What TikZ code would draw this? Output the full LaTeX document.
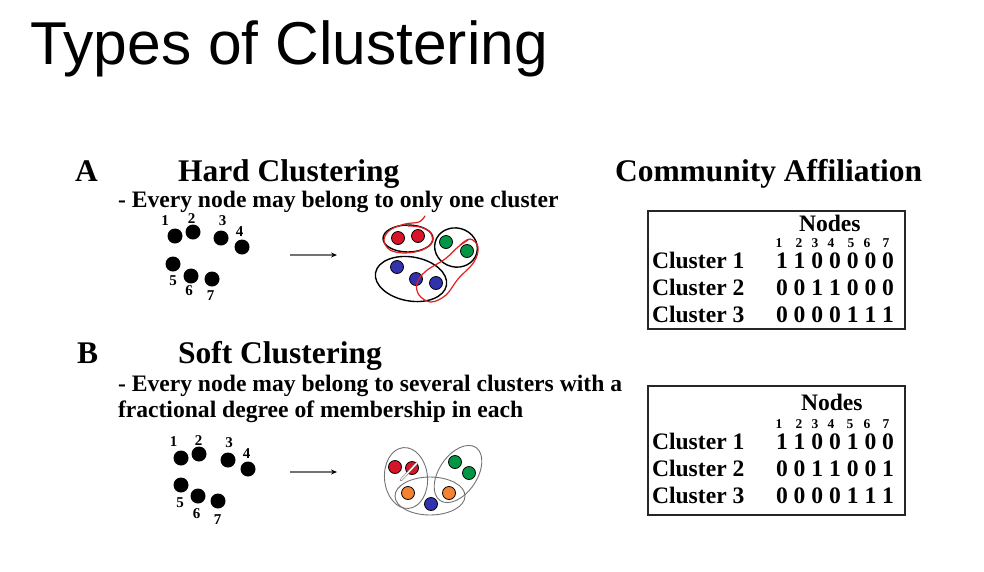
\documentclass[tikz,border=0pt]{standalone}
\usepackage{fontspec}
\setmainfont{Liberation Serif}
\newfontfamily\titlefont{Liberation Sans}
\usetikzlibrary{arrows.meta}
\definecolor{dotred}{RGB}{215,20,40}
\definecolor{dotgreen}{RGB}{0,150,70}
\definecolor{dotblue}{RGB}{50,50,175}
\definecolor{dotorange}{RGB}{245,130,50}
\definecolor{pen}{RGB}{225,30,30}

\begin{document}
\begin{tikzpicture}[x=1pt,y=-1pt,
  every node/.style={inner sep=0pt, outer sep=0pt},
  txt/.style={anchor=base west, font=\bfseries\fontsize{23.6}{26}\selectfont},
  head/.style={anchor=base west, font=\bfseries\fontsize{31.5}{36}\selectfont},
  vtx/.style={circle, fill=black, minimum size=15pt},
  vlab/.style={font=\bfseries\fontsize{15}{15}\selectfont},
  cdot/.style={circle, draw=black, line width=0.8pt, minimum size=13pt},
  hardring/.style={draw=black, line width=1.4pt},
  softring/.style={draw=black!55, line width=0.9pt},
  penline/.style={draw=pen, line width=1.2pt, line cap=round, line join=round},
  arr/.style={draw=black!55, line width=1.4pt, -{Stealth[black, length=6pt, width=5pt]}},
  tabbox/.style={draw=black!85, line width=2pt},
  colnum/.style={font=\bfseries\fontsize{13.5}{14}\selectfont, anchor=base},
]
\useasboundingbox (0,0) rectangle (984,571);
\fill[white] (0,0) rectangle (984,571);

% title
\node[anchor=base west, font=\titlefont\fontsize{60.5}{66}\selectfont] (title) at (30,64) {Types of Clustering};

% ---------- A: hard clustering ----------
\node[head] (A) at (75,181) {A};
\node[head] (hardtitle) at (178,181) {Hard Clustering};
\node[txt] (harddesc) at (118,207) {- Every node may belong to only one cluster};
\node[head] (affil) at (615,181) {Community Affiliation};

% input graph
\node[vtx] (h1) at (175,236) {};
\node[vtx] (h2) at (193,232) {};
\node[vtx] (h3) at (221,238) {};
\node[vtx] (h4) at (242,247) {};
\node[vtx] (h5) at (173,264) {};
\node[vtx] (h6) at (191,276) {};
\node[vtx] (h7) at (212,279) {};
\node[vlab] (hl1) at (165,221) {1};
\node[vlab] (hl2) at (191.5,219) {2};
\node[vlab] (hl3) at (222.5,220.5) {3};
\node[vlab] (hl4) at (239.5,231.5) {4};
\node[vlab] (hl5) at (173,281) {5};
\node[vlab] (hl6) at (189,291) {6};
\node[vlab] (hl7) at (210.5,296) {7};

\coordinate (ha0) at (290,255);
\coordinate (ha1) at (337,255);
\draw[arr] (ha0) -- (ha1);

% resulting clusters
\node[cdot, fill=dotred] (hr1) at (398,238) {};
\node[cdot, fill=dotred] (hr2) at (418,236) {};
\node[cdot, fill=dotgreen] (hg1) at (446,242) {};
\node[cdot, fill=dotgreen] (hg2) at (467,251) {};
\node[cdot, fill=dotblue] (hb1) at (397,267) {};
\node[cdot, fill=dotblue] (hb2) at (416,279) {};
\node[cdot, fill=dotblue] (hb3) at (436,283) {};
\draw[hardring] (408,238.5) ellipse [x radius=25, y radius=13.5];
\draw[hardring, rotate around={-15:(456,247.5)}] (456,247.5) ellipse [x radius=21.5, y radius=19.5];
\draw[hardring, rotate around={-10:(411,279)}] (411,279) ellipse [x radius=36, y radius=22];

% pen marks
\draw[penline] plot[smooth, tension=0.6] coordinates {(425,216) (419,222) (405,224) (390,230) (384,240) (390,250) (405,253) (422,250) (432,242) (430,232) (420,227) (408,226)};
\draw[penline] plot[smooth, tension=0.6] coordinates {(460,245) (470,239) (478,247) (474,262) (458,279) (446,295) (431,302) (419,295) (417,283) (426,271) (445,259) (458,247) (468,240)};

% affiliation table A
\draw[tabbox] (648,211) rectangle (905,329);
\node[txt] (hnodes) at (799,231) {Nodes};
\node[colnum] (hc1) at (779,247) {1};
\node[colnum] (hc2) at (799,247) {2};
\node[colnum] (hc3) at (815,247) {3};
\node[colnum] (hc4) at (831,247) {4};
\node[colnum] (hc5) at (851,247) {5};
\node[colnum] (hc6) at (867,247) {6};
\node[colnum] (hc7) at (886,247) {7};
\node[txt] (hrow1) at (652,268) {Cluster 1};
\node[txt] (hrow2) at (652,295) {Cluster 2};
\node[txt] (hrow3) at (652,322) {Cluster 3};
\node[txt] (hval1) at (776,268) {1 1 0 0 0 0 0};
\node[txt] (hval2) at (776,295) {0 0 1 1 0 0 0};
\node[txt] (hval3) at (776,322) {0 0 0 0 1 1 1};

% ---------- B: soft clustering ----------
\node[head] (B) at (77,363) {B};
\node[head] (softtitle) at (178,363) {Soft Clustering};
\node[txt] (softdesc1) at (118,391) {- Every node may belong to several clusters with a};
\node[txt] (softdesc2) at (118,417) {fractional degree of membership in each};

% input graph
\node[vtx] (s1) at (181,458) {};
\node[vtx] (s2) at (199,454) {};
\node[vtx] (s3) at (228,460) {};
\node[vtx] (s4) at (248,469) {};
\node[vtx] (s5) at (181,485) {};
\node[vtx] (s6) at (198,496) {};
\node[vtx] (s7) at (218,501) {};
\node[vlab] (sl1) at (173.5,442) {1};
\node[vlab] (sl2) at (198.5,441) {2};
\node[vlab] (sl3) at (229,443) {3};
\node[vlab] (sl4) at (246.5,454) {4};
\node[vlab] (sl5) at (180,503) {5};
\node[vlab] (sl6) at (196.5,514) {6};
\node[vlab] (sl7) at (217.5,520) {7};

\coordinate (sa0) at (290,472);
\coordinate (sa1) at (337,472);
\draw[arr] (sa0) -- (sa1);

% overlapping clusters
\node[cdot, fill=dotred] (sr1) at (395,467) {};
\node[cdot, fill=dotred] (sr2) at (412,468) {};
\node[cdot, fill=dotgreen] (sg1) at (455,462) {};
\node[cdot, fill=dotgreen] (sg2) at (469,473) {};
\node[cdot, fill=dotorange] (so1) at (408,493) {};
\node[cdot, fill=dotorange] (so2) at (449,493) {};
\node[cdot, fill=dotblue] (sb) at (431,504) {};
\draw[softring, rotate around={5:(406,478)}] (406,478) ellipse [x radius=21.5, y radius=30.5];
\draw[softring, rotate around={56:(458,474)}] (458,474) ellipse [x radius=32, y radius=19];
\draw[softring] (430,496) ellipse [x radius=35, y radius=19];
\draw[black!60, line width=0.5pt, double=white, double distance=1.4pt, line cap=round] (sr2.north east) -- (401,480);

% affiliation table B
\draw[tabbox] (648,386) rectangle (905,515);
\node[txt] (snodes) at (801,410) {Nodes};
\node[colnum] (sc1) at (779,428) {1};
\node[colnum] (sc2) at (799,428) {2};
\node[colnum] (sc3) at (815,428) {3};
\node[colnum] (sc4) at (831,428) {4};
\node[colnum] (sc5) at (850,428) {5};
\node[colnum] (sc6) at (867,428) {6};
\node[colnum] (sc7) at (886,428) {7};
\node[txt] (srow1) at (652,449) {Cluster 1};
\node[txt] (srow2) at (652,476) {Cluster 2};
\node[txt] (srow3) at (652,503) {Cluster 3};
\node[txt] (sval1) at (776,449) {1 1 0 0 1 0 0};
\node[txt] (sval2) at (776,476) {0 0 1 1 0 0 1};
\node[txt] (sval3) at (776,503) {0 0 0 0 1 1 1};
\end{tikzpicture}
\end{document}
